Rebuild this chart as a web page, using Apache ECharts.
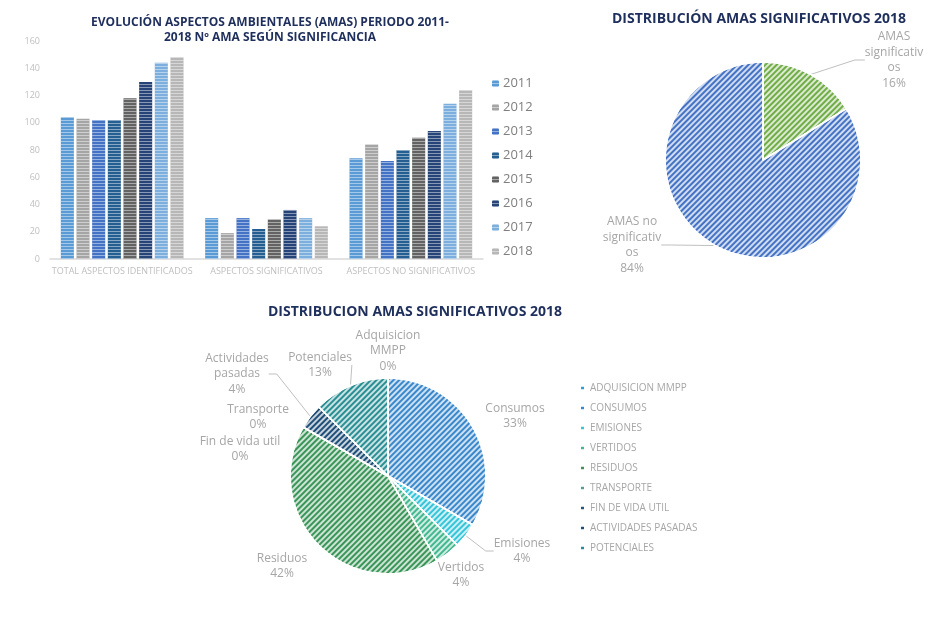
<!DOCTYPE html>
<html>
<head>
<meta charset="utf-8">
<script src="https://cdn.jsdelivr.net/npm/echarts@6/dist/echarts.min.js"></script>
<style>html,body{margin:0;padding:0;background:#fff;}#c{width:945px;height:620px;}</style>
</head>
<body>
<div id="c"></div>
<script>
// ---- data ----
const barCategories = ['TOTAL ASPECTOS IDENTIFICADOS', 'ASPECTOS SIGNIFICATIVOS', 'ASPECTOS NO SIGNIFICATIVOS'];
const years = ['2011', '2012', '2013', '2014', '2015', '2016', '2017', '2018'];
const v2011 = [104, 30, 74];
const v2012 = [103, 19, 84];
const v2013 = [102, 30, 72];
const v2014 = [102, 22, 80];
const v2015 = [118, 29, 89];
const v2016 = [130, 36, 94];
const v2017 = [144, 30, 114];
const v2018 = [148, 24, 124];
const yTicks = [0, 20, 40, 60, 80, 100, 120, 140, 160];

const pie1Names = ['AMAS significativos', 'AMAS no significativos'];
const pie1Labels = ['AMAS\nsignificativ\nos', 'AMAS no\nsignificativ\nos'];
const pie1Values = [24, 124];

const pie2Names = ['Adquisicion MMPP', 'Consumos', 'Emisiones', 'Vertidos', 'Residuos', 'Transporte', 'Fin de vida util', 'Actividades pasadas', 'Potenciales'];
const pie2Labels = ['Adquisicion\nMMPP', 'Consumos', 'Emisiones', 'Vertidos', 'Residuos', 'Transporte', 'Fin de vida util', 'Actividades\npasadas', 'Potenciales'];
const pie2Values = [0, 8, 1, 1, 10, 0, 0, 1, 3];

const titles = [
  'EVOLUCIÓN ASPECTOS AMBIENTALES (AMAS) PERIODO 2011-\n2018 Nº AMA SEGÚN SIGNIFICANCIA',
  'DISTRIBUCIÓN AMAS SIGNIFICATIVOS 2018',
  'DISTRIBUCION AMAS SIGNIFICATIVOS 2018'
];

// ---- layout & styles ----
const FONT = '"Open Sans", "Noto Sans", sans-serif';
const PIE1_CENTER = [763, 160];
const PIE2_CENTER = [388, 476];
const PIE_R = 98;
// label placement (label-block centre, relative to the pie centre), mimicking the original best-fit layout
const pie1LabelPlace = [[131, -100], [-131, 85]];
const pie2LabelPlace = [[0, -125], [127, -60], [134, 75], [73, 99], [-106, 90], [-130, -59], [-148, -27], [-151, -102], [-68, -111]];
const pie2LineShown = [false, false, true, false, false, false, false, true, true];

const yearColors = ['#5b9bd5', '#a5a5a5', '#4472c4', '#255e91', '#636363', '#264478', '#7cafdd', '#b7b7b7'];
const pie1Colors = ['#70ad47', '#4472c4'];
const pie2Colors = ['#2aa0d8', '#3a88cc', '#35c5d9', '#42b88e', '#3a9558', '#5a9a90', '#1e5a86', '#1f4e79', '#2a8f94'];
const barDecal = { symbol: 'rect', symbolSize: 1, dashArrayX: [1, 0], dashArrayY: [1, 2], rotation: 0, color: 'rgba(255,255,255,0.45)' };
const pieDecal = { symbol: 'rect', symbolSize: 1, dashArrayX: [1, 0], dashArrayY: [1.5, 1.5], rotation: -Math.PI / 4, color: 'rgba(255,255,255,0.75)' };
const noDecal = { symbol: 'rect', color: 'rgba(0,0,0,0)' };
const barTitleStyle = { fontFamily: FONT, fontSize: 12, fontWeight: 'bold', color: '#1f2f5c', lineHeight: 15 };
const pieTitleStyle = { fontFamily: FONT, fontSize: 14, fontWeight: 'bold', color: '#1f2f5c' };
const labelGray = '#a6a6a6';

const yearValues = [v2011, v2012, v2013, v2014, v2015, v2016, v2017, v2018];
const barSeries = years.map((y, i) => ({
  name: y, type: 'bar', data: yearValues[i],
  barGap: '20%', barCategoryGap: '15%',
  itemStyle: { color: yearColors[i], decal: barDecal },
  xAxisIndex: 0, yAxisIndex: 0
}));

function placeLabel(center, places) {
  return function (params) {
    const p = places[params.dataIndex];
    return { x: center[0] + p[0], y: center[1] + p[1], align: 'center', verticalAlign: 'middle' };
  };
}

const chart = echarts.init(document.getElementById('c'));
chart.setOption({
  animation: false,
  title: [
    { text: titles[0], left: 265, top: 10, textAlign: 'center', textStyle: barTitleStyle },
    { text: titles[1], left: 754, top: 7, textAlign: 'center', textStyle: pieTitleStyle },
    { text: titles[2], left: 410, top: 300, textAlign: 'center', textStyle: pieTitleStyle }
  ],
  legend: [
    {
      data: years, orient: 'vertical', left: 487, top: 72, itemWidth: 7, itemHeight: 7, itemGap: 11,
      textStyle: { fontFamily: FONT, fontSize: 13, color: '#7f7f7f', padding: [0, 0, 0, -1] }
    },
    {
      data: pie2Names, orient: 'vertical', left: 574, top: 378, itemWidth: 5, itemHeight: 5, itemGap: 10,
      formatter: n => n.toUpperCase(),
      itemStyle: { decal: noDecal },
      textStyle: { fontFamily: FONT, fontSize: 10, color: labelGray }
    }
  ],
  grid: { left: 50, top: 41, width: 433, height: 218, containLabel: false },
  xAxis: {
    type: 'category', data: barCategories,
    axisLine: { lineStyle: { color: '#d9d9d9', width: 1.5 } },
    axisTick: { show: false },
    axisLabel: { fontFamily: FONT, fontSize: 9, color: '#bfbfbf', margin: 8, interval: 0 }
  },
  yAxis: {
    type: 'value', min: yTicks[0], max: yTicks[yTicks.length - 1], interval: 20,
    axisLine: { show: false }, axisTick: { show: false }, splitLine: { show: false },
    axisLabel: { fontFamily: FONT, fontSize: 9, color: '#bfbfbf', margin: 10 }
  },
  series: barSeries.concat([
    {
      type: 'pie', name: 'pie1', center: PIE1_CENTER, radius: PIE_R, startAngle: 90, clockwise: true,
      avoidLabelOverlap: false,
      data: pie1Names.map((n, i) => ({ name: n, value: pie1Values[i], itemStyle: { color: pie1Colors[i], decal: pieDecal } })),
      itemStyle: { borderColor: '#fff', borderWidth: 1.5 },
      label: {
        formatter: p => pie1Labels[p.dataIndex] + '\n' + p.percent + '%',
        fontFamily: FONT, fontSize: 12, color: labelGray, lineHeight: 15.5
      },
      labelLine: { length: 10, length2: 10, smooth: false, lineStyle: { color: '#bfbfbf', width: 1 } },
      labelLayout: placeLabel(PIE1_CENTER, pie1LabelPlace),
      percentPrecision: 0
    },
    {
      type: 'pie', name: 'pie2', center: PIE2_CENTER, radius: PIE_R, startAngle: 90, clockwise: true,
      avoidLabelOverlap: false,
      data: pie2Names.map((n, i) => ({
        name: n, value: pie2Values[i],
        itemStyle: { color: pie2Colors[i], decal: pieDecal },
        labelLine: { show: pie2LineShown[i] }
      })),
      itemStyle: { borderColor: '#fff', borderWidth: 1.5 },
      label: {
        formatter: p => pie2Labels[p.dataIndex] + '\n' + p.percent + '%',
        fontFamily: FONT, fontSize: 12, color: labelGray, lineHeight: 15.5
      },
      labelLine: { length: 8, length2: 8, lineStyle: { color: '#bfbfbf', width: 1 } },
      labelLayout: placeLabel(PIE2_CENTER, pie2LabelPlace),
      percentPrecision: 0,
      stillShowZeroSum: true
    }
  ])
});
</script>
</body>
</html>
